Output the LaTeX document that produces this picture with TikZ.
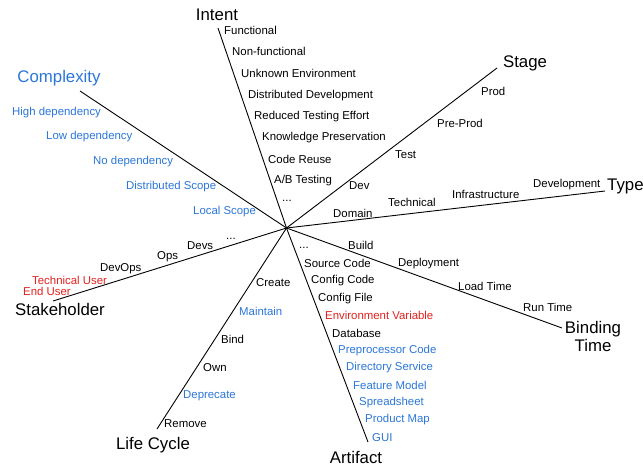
\documentclass[tikz,border=0pt]{standalone}
\usepackage{fontspec}
\setmainfont{Liberation Sans}
\definecolor{lblue}{HTML}{2A76D8}
\definecolor{lred}{HTML}{E3201E}
\begin{document}
\begin{tikzpicture}[x=1pt,y=-1pt,
  lab/.style={inner sep=0pt,anchor=west,font=\fontsize{11.4}{13}\selectfont},
  blab/.style={lab,text=lblue},
  rlab/.style={lab,text=lred},
  big/.style={inner sep=0pt,font=\fontsize{16.8}{19}\selectfont},
  axis/.style={draw=black,line width=0.9pt}]
\useasboundingbox (0,0) rectangle (643,467);
% centre and axis ends
\coordinate (c) at (286.5,228);
\coordinate (eInt) at (218,28);
\coordinate (eSta) at (497,68);
\coordinate (eTyp) at (605,191);
\coordinate (eBin) at (562,328);
\coordinate (eArt) at (368,442);
\coordinate (eLif) at (157,429);
\coordinate (eStk) at (53,301);
\coordinate (eCpx) at (80,91);
\foreach \e in {eInt,eSta,eTyp,eBin,eArt,eLif,eStk,eCpx}
  \draw[axis] (c) -- (\e);
% axis titles
\node[big] (tInt) at (217,15) {Intent};
\node[big] (tSta) at (525,63) {Stage};
\node[big,anchor=west] (tTyp) at (607,186) {Type};
\node[big,align=center] (tBin) at (593,336) {Binding\\[-1pt]Time};
\node[big] (tArt) at (356,457) {Artifact};
\node[big] (tLif) at (153,445) {Life Cycle};
\node[big] (tStk) at (60,309) {Stakeholder};
\node[big,text=lblue] (tCpx) at (59,78) {Complexity};
% Intent
\node[lab] (i1) at (224,30) {Functional};
\node[lab] (i2) at (232,51) {Non-functional};
\node[lab] (i3) at (241,73) {Unknown Environment};
\node[lab] (i4) at (248,96) {Distributed Development};
\node[lab] (i5) at (254,117) {Reduced Testing Effort};
\node[lab] (i6) at (262,138) {Knowledge Preservation};
\node[lab] (i7) at (268,159) {Code Reuse};
\node[lab] (i8) at (274,181) {A/B Testing};
\node[lab] (i9) at (282,201) {...};
% Stage
\node[lab] (s1) at (481,91) {Prod};
\node[lab] (s2) at (437,123) {Pre-Prod};
\node[lab] (s3) at (395,155) {Test};
\node[lab] (s4) at (349,186) {Dev};
% Type
\node[lab] (t1) at (333,213) {Domain};
\node[lab] (t2) at (388,202) {Technical};
\node[lab] (t3) at (452,194) {Infrastructure};
\node[lab] (t4) at (533,185) {Development};
% Binding time
\node[lab] (b1) at (348,245) {Build};
\node[lab] (b2) at (398,264) {Deployment};
\node[lab] (b3) at (458,286) {Load Time};
\node[lab] (b4) at (523,307) {Run Time};
% Artifact
\node[lab] (a0) at (299,248) {...};
\node[lab] (a1) at (304,263) {Source Code};
\node[lab] (a2) at (311,281) {Config Code};
\node[lab] (a3) at (318,299) {Config File};
\node[rlab] (a4) at (325,315) {Environment Variable};
\node[lab] (a5) at (332,333) {Database};
\node[blab] (a6) at (338,351) {Preprocessor Code};
\node[blab] (a7) at (346,368) {Directory Service};
\node[blab] (a8) at (353,385) {Feature Model};
\node[blab] (a9) at (359,403) {Spreadsheet};
\node[blab] (a10) at (365,420) {Product Map};
\node[blab] (a11) at (372,438) {GUI};
% Life cycle
\node[lab] (l1) at (256,283) {Create};
\node[blab] (l2) at (239,311) {Maintain};
\node[lab] (l3) at (221,339) {Bind};
\node[lab] (l4) at (203,368) {Own};
\node[blab] (l5) at (183,396) {Deprecate};
\node[lab] (l6) at (164,424) {Remove};
% Stakeholder
\node[lab] (k0) at (226,239) {...};
\node[lab] (k1) at (187,246) {Devs};
\node[lab] (k2) at (157,257) {Ops};
\node[lab] (k3) at (100,269) {DevOps};
\node[rlab] (k4) at (32,280) {Technical User};
\node[rlab] (k5) at (23,291) {End User};
% Complexity
\node[blab] (x1) at (12,113) {High dependency};
\node[blab] (x2) at (46,137) {Low dependency};
\node[blab] (x3) at (93,162) {No dependency};
\node[blab] (x4) at (126,187) {Distributed Scope};
\node[blab] (x5) at (193,212) {Local Scope};
\end{tikzpicture}
\end{document}
